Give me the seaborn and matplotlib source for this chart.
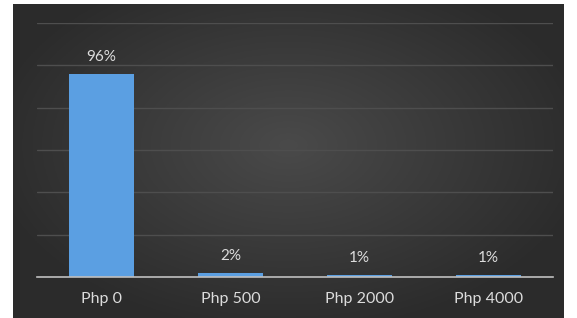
import numpy as np
import pandas as pd
import matplotlib
matplotlib.use("Agg")
import matplotlib.pyplot as plt
import seaborn as sns

categories = ["Php 0", "Php 500", "Php 2000", "Php 4000"]
shares = [0.96, 0.02, 0.01, 0.01]
share_labels = ["96%", "2%", "1%", "1%"]

df = pd.DataFrame({"Amount": categories, "Share": shares})

sns.set_style("dark")
plt.rcParams["font.family"] = ["Lato", "DejaVu Sans"]

W, H = 577, 318
fig = plt.figure(figsize=(W / 100, H / 100), dpi=100, facecolor="white")

# dark radial gradient panel behind the chart
bg = fig.add_axes([13 / W, 0, (564 - 13) / W, (H - 4) / H])
yy, xx = np.mgrid[-1:1:200j, -1:1:300j]
r = np.sqrt((xx / 1.1) ** 2 + ((yy + 0.1) / 1.2) ** 2)
shade = np.clip(1 - r, 0, 1)
c_edge, c_mid = 0.17, 0.29
img = c_edge + (c_mid - c_edge) * shade
bg.imshow(np.dstack([img, img, img]), aspect="auto", extent=[0, 1, 0, 1])
bg.axis("off")

ax = fig.add_axes([37 / W, (H - 277) / H, 516 / W, (277 - 23) / H])
ax.set_facecolor("none")
sns.barplot(data=df, x="Amount", y="Share", color="#5b9fe2", width=0.5,
            saturation=1, linewidth=0, edgecolor="none", ax=ax, zorder=3)
ax.set_ylim(0, 1.2)
ax.set_xlim(-0.5, 3.5)
ax.set_yticks(np.arange(0, 1.21, 0.2))
ax.yaxis.grid(True, color="#4e4e4e", linewidth=1)
ax.xaxis.grid(False)
ax.set_axisbelow(True)
ax.tick_params(axis="y", left=False, labelleft=False)
ax.tick_params(axis="x", bottom=False, colors="#dcdcdc", labelsize=11.5, pad=7)
ax.set_xlabel("")
ax.set_ylabel("")
for side in ["left", "right", "top"]:
    ax.spines[side].set_visible(False)
ax.spines["bottom"].set_visible(True)
ax.spines["bottom"].set_color("#bfbfbf")
ax.spines["bottom"].set_linewidth(1.2)
ax.spines["bottom"].set_zorder(4)

ax.bar_label(ax.containers[0], labels=share_labels, padding=7,
             color="#dcdcdc", fontsize=11)

fig.savefig("out.png", dpi=100, facecolor="white")
